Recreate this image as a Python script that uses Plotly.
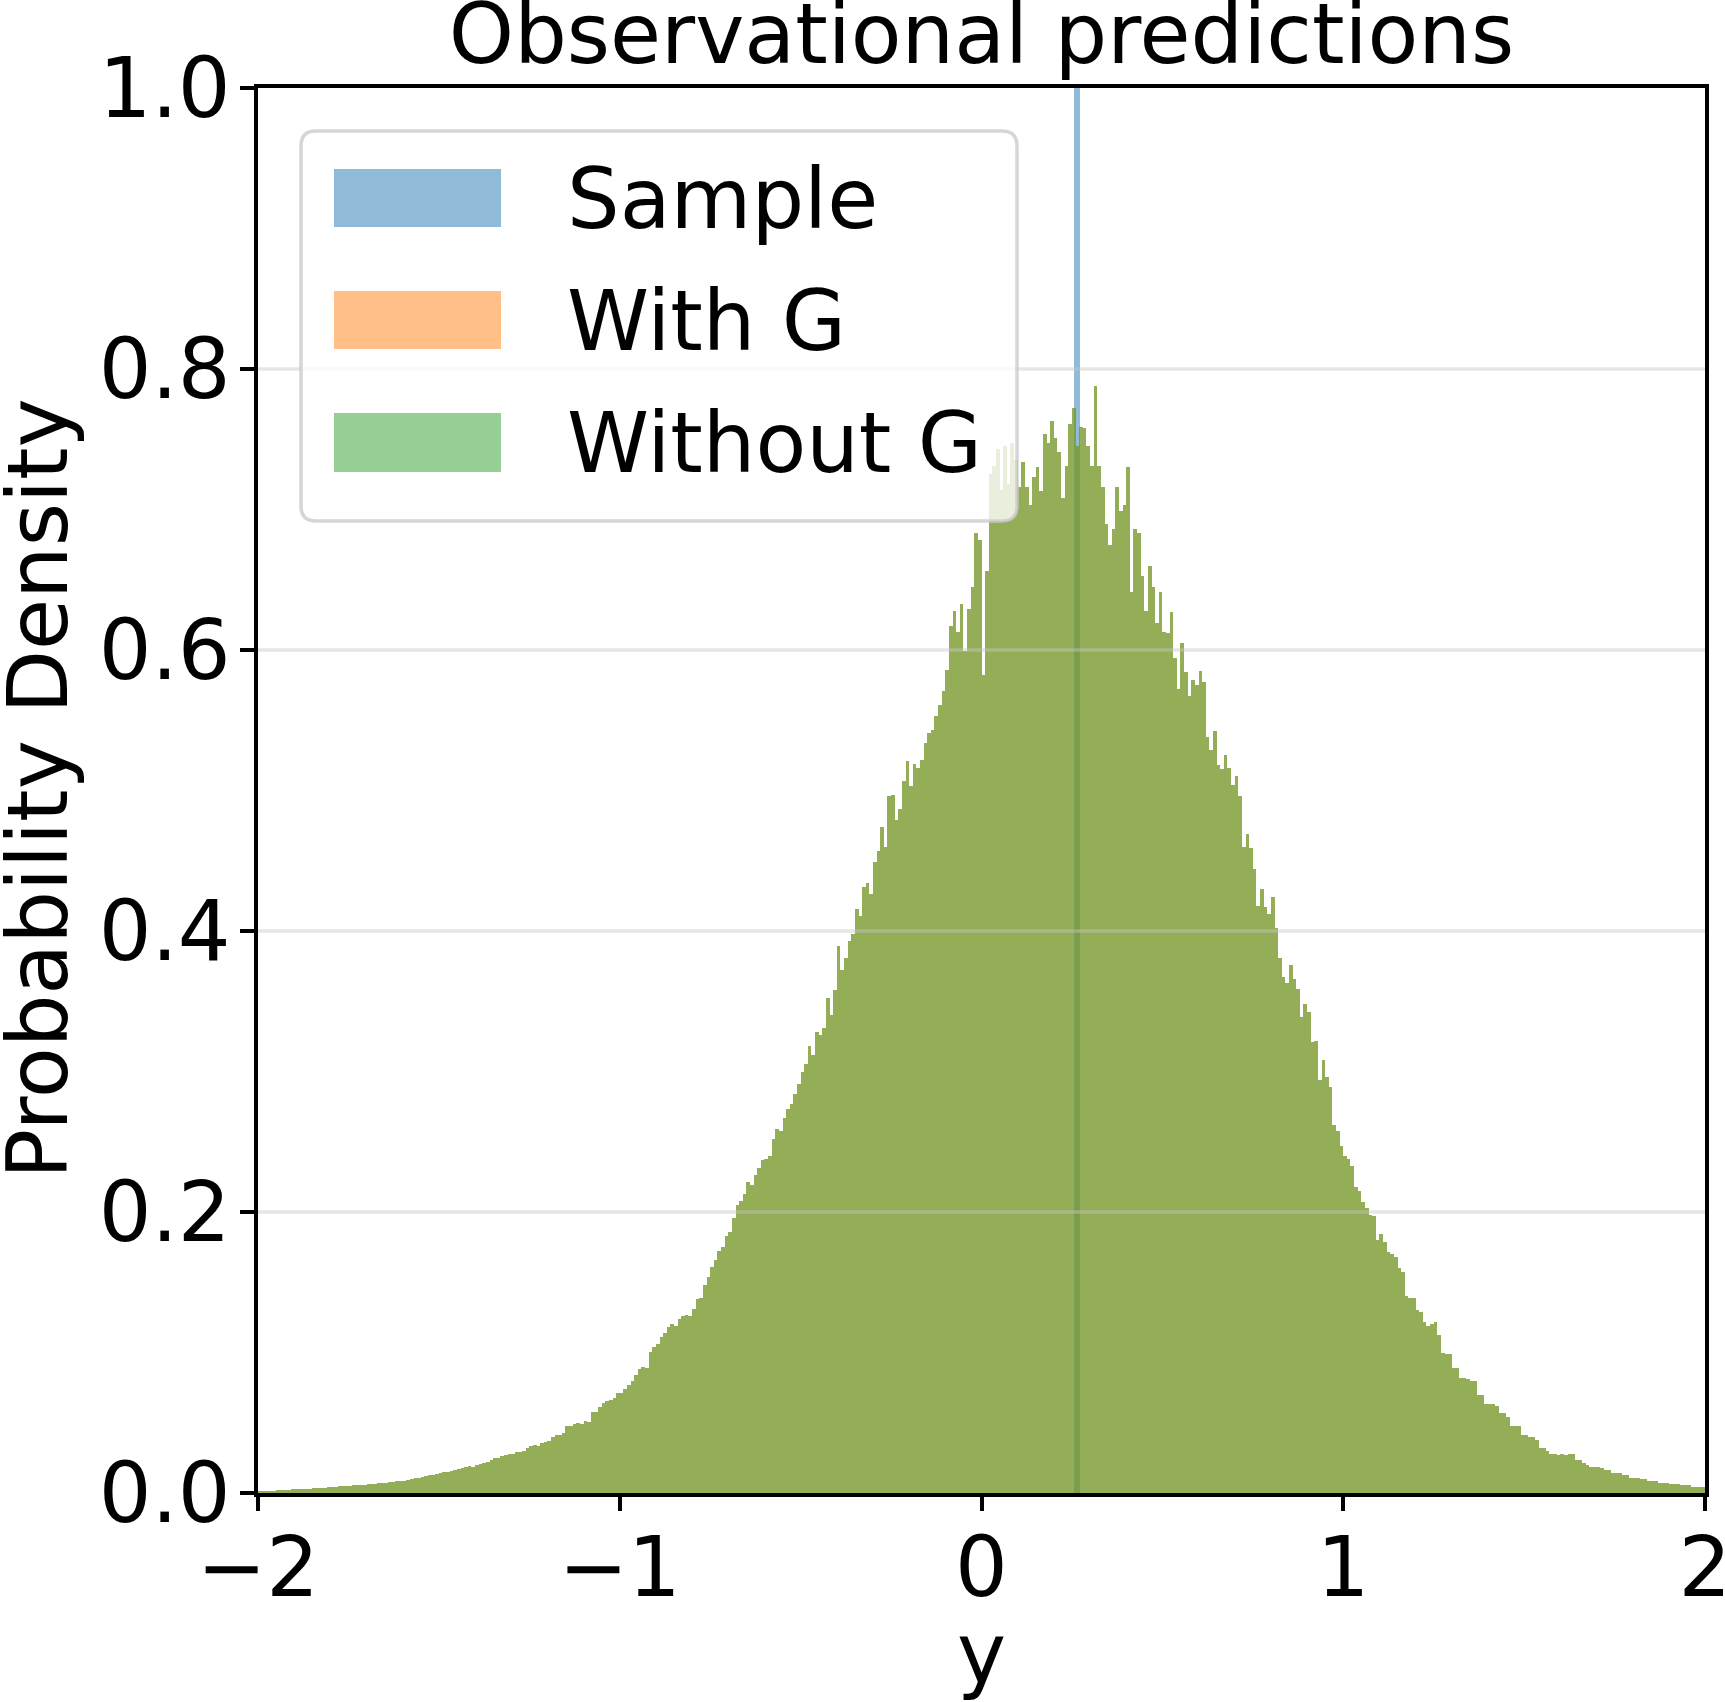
import numpy as np
import plotly.graph_objects as go

# ---------------- data ----------------
bin_start = -2.0
bin_width = 0.01

# density per 0.01-wide bin, from -2.00 to 2.00 (40 rows of 10 bins)
without_g_density = [
    0.0012, 0.0013, 0.0014, 0.0015, 0.0016, 0.0018, 0.0019, 0.0021, 0.0023, 0.0025,
    0.0026, 0.0028, 0.0029, 0.0031, 0.0032, 0.0034, 0.0036, 0.0037, 0.0039, 0.0041,
    0.0043, 0.0045, 0.0047, 0.0048, 0.0051, 0.0053, 0.0056, 0.0057, 0.0058, 0.0060,
    0.0062, 0.0064, 0.0066, 0.0068, 0.0070, 0.0073, 0.0075, 0.0079, 0.0083, 0.0086,
    0.0089, 0.0093, 0.0098, 0.0104, 0.0110, 0.0116, 0.0120, 0.0125, 0.0131, 0.0136,
    0.0140, 0.0146, 0.0152, 0.0158, 0.0165, 0.0171, 0.0178, 0.0186, 0.0190, 0.0188,
    0.0197, 0.0210, 0.0213, 0.0220, 0.0236, 0.0247, 0.0250, 0.0262, 0.0271, 0.0278,
    0.0279, 0.0290, 0.0291, 0.0302, 0.0318, 0.0335, 0.0340, 0.0338, 0.0355, 0.0366,
    0.0370, 0.0402, 0.0410, 0.0412, 0.0428, 0.0480, 0.0475, 0.0490, 0.0496, 0.0492,
    0.0510, 0.0506, 0.0580, 0.0575, 0.0612, 0.0640, 0.0655, 0.0660, 0.0678, 0.0710,
    0.0710, 0.0740, 0.0770, 0.0800, 0.0840, 0.0880, 0.0900, 0.0890, 0.1006, 0.1040,
    0.1060, 0.1110, 0.1140, 0.1180, 0.1200, 0.1190, 0.1240, 0.1260, 0.1270, 0.1260,
    0.1310, 0.1380, 0.1390, 0.1480, 0.1540, 0.1610, 0.1660, 0.1720, 0.1750, 0.1830,
    0.1860, 0.1960, 0.2050, 0.2080, 0.2130, 0.2210, 0.2190, 0.2260, 0.2310, 0.2370,
    0.2380, 0.2400, 0.2520, 0.2590, 0.2580, 0.2670, 0.2730, 0.2770, 0.2840, 0.2910,
    0.3000, 0.3050, 0.3180, 0.3120, 0.3280, 0.3260, 0.3310, 0.3520, 0.3400, 0.3580,
    0.3890, 0.3720, 0.3810, 0.3930, 0.3980, 0.4160, 0.4110, 0.4310, 0.4340, 0.4260,
    0.4490, 0.4570, 0.4740, 0.4600, 0.4960, 0.4970, 0.4790, 0.4870, 0.5070, 0.5210,
    0.5030, 0.5190, 0.5160, 0.5220, 0.5340, 0.5410, 0.5430, 0.5530, 0.5610, 0.5710,
    0.5860, 0.6170, 0.6280, 0.6130, 0.6330, 0.5990, 0.6290, 0.6450, 0.6830, 0.6780,
    0.5820, 0.6560, 0.7250, 0.7310, 0.7430, 0.7140, 0.7450, 0.7180, 0.7470, 0.7350,
    0.7160, 0.7340, 0.7160, 0.7030, 0.7230, 0.7300, 0.7130, 0.7540, 0.7470, 0.7630,
    0.7510, 0.7410, 0.7080, 0.7310, 0.7610, 0.7720, 0.7450, 0.7590, 0.7580, 0.7450,
    0.7310, 0.7880, 0.7310, 0.7160, 0.6900, 0.6750, 0.6860, 0.7160, 0.6990, 0.7030,
    0.7300, 0.6410, 0.6860, 0.6830, 0.6530, 0.6280, 0.6600, 0.6450, 0.6190, 0.6410,
    0.6130, 0.6120, 0.6270, 0.5940, 0.5720, 0.6050, 0.5840, 0.5670, 0.5790, 0.5750,
    0.5850, 0.5770, 0.5380, 0.5290, 0.5420, 0.5180, 0.5150, 0.5250, 0.5160, 0.5040,
    0.5100, 0.4960, 0.4600, 0.4690, 0.4590, 0.4440, 0.4180, 0.4300, 0.4170, 0.4120,
    0.4240, 0.4020, 0.3810, 0.3670, 0.3630, 0.3760, 0.3660, 0.3590, 0.3390, 0.3480,
    0.3420, 0.3210, 0.3220, 0.2940, 0.3080, 0.2960, 0.2890, 0.2620, 0.2580, 0.2470,
    0.2400, 0.2375, 0.2330, 0.2180, 0.2150, 0.2070, 0.2030, 0.1980, 0.1970, 0.1800,
    0.1840, 0.1790, 0.1715, 0.1700, 0.1680, 0.1600, 0.1570, 0.1405, 0.1390, 0.1390,
    0.1300, 0.1290, 0.1214, 0.1190, 0.1200, 0.1220, 0.1125, 0.0993, 0.0990, 0.0987,
    0.0890, 0.0890, 0.0816, 0.0816, 0.0810, 0.0800, 0.0800, 0.0700, 0.0700, 0.0630,
    0.0630, 0.0630, 0.0620, 0.0570, 0.0570, 0.0540, 0.0480, 0.0480, 0.0480, 0.0410,
    0.0410, 0.0400, 0.0400, 0.0380, 0.0320, 0.0320, 0.0300, 0.0280, 0.0280, 0.0270,
    0.0278, 0.0273, 0.0275, 0.0275, 0.0235, 0.0235, 0.0216, 0.0200, 0.0183, 0.0183,
    0.0183, 0.0180, 0.0164, 0.0164, 0.0140, 0.0140, 0.0140, 0.0128, 0.0128, 0.0110,
    0.0110, 0.0110, 0.0100, 0.0100, 0.0088, 0.0088, 0.0088, 0.0073, 0.0073, 0.0073,
    0.0062, 0.0062, 0.0062, 0.0055, 0.0055, 0.0055, 0.0045, 0.0045, 0.0045, 0.0044,
]
# the "With G" histogram is indistinguishable from "Without G" in the reference
with_g_density = list(without_g_density)

sample_value = [0.264]
sample_bin_width = 0.016
sample_density = [62.5]

series_names = ["Sample", "With G", "Without G"]
x_ticks = [-2, -1, 0, 1, 2]
y_ticks = [0.0, 0.2, 0.4, 0.6, 0.8, 1.0]
title_text = "Observational predictions"
x_title = "y"
y_title = "Probability Density"

# ---------------- styles ----------------
FONT = "DejaVu Sans"
FS = 83
C_BLUE = "#1f77b4"
C_ORANGE = "#ff7f0e"
C_GREEN = "#2ca02c"

centers = bin_start + bin_width * (np.arange(len(without_g_density)) + 0.5)

fig = go.Figure()
fig.add_trace(go.Bar(x=sample_value, y=sample_density, width=sample_bin_width,
                     marker=dict(color=C_BLUE, line=dict(width=0)), opacity=0.5,
                     name=series_names[0], showlegend=False))
fig.add_trace(go.Bar(x=centers, y=with_g_density, width=bin_width,
                     marker=dict(color=C_ORANGE, line=dict(width=0)), opacity=0.5,
                     name=series_names[1], showlegend=False))
fig.add_trace(go.Bar(x=centers, y=without_g_density, width=bin_width,
                     marker=dict(color=C_GREEN, line=dict(width=0)), opacity=0.5,
                     name=series_names[2], showlegend=False))

# plot area in pixels: x 258..1705, y 88..1493
L, R, T, B = 258, 20, 88, 209
W, H = 1725, 1702
PW, PH = W - L - R, H - T - B

def px(xp):
    return (xp - L) / PW

def py(yp):
    return (H - B - yp) / PH

shapes = []
# horizontal grid lines (drawn translucent above bars, like the reference)
for yv in y_ticks[1:-1]:
    shapes.append(dict(type="line", xref="paper", yref="y", x0=0, x1=1, y0=yv, y1=yv,
                       line=dict(color="rgba(200,200,200,0.45)", width=3.5), layer="above"))

# legend box with rounded corners
x0, x1, y0, y1 = px(301), px(1017), py(521), py(131)
rx, ry = 15 / PW, 15 / PH
path = (f"M {x0+rx},{y0} L {x1-rx},{y0} Q {x1},{y0} {x1},{y0+ry} "
        f"L {x1},{y1-ry} Q {x1},{y1} {x1-rx},{y1} L {x0+rx},{y1} "
        f"Q {x0},{y1} {x0},{y1-ry} L {x0},{y0+ry} Q {x0},{y0} {x0+rx},{y0} Z")
shapes.append(dict(type="path", xref="paper", yref="paper", path=path,
                   fillcolor="rgba(255,255,255,0.8)",
                   line=dict(color="rgba(204,204,204,0.8)", width=3.5), layer="above"))

legend_rows = [(169, 227), (291, 349), (413, 472)]
legend_colors = ["rgba(31,119,180,0.5)", "rgba(255,127,14,0.5)", "rgba(44,160,44,0.5)"]
annotations = []
for (ya, yb), col, name in zip(legend_rows, legend_colors, series_names):
    shapes.append(dict(type="rect", xref="paper", yref="paper",
                       x0=px(334), x1=px(501), y0=py(yb), y1=py(ya),
                       fillcolor=col, line=dict(width=0), layer="above"))
    annotations.append(dict(xref="paper", yref="paper", x=px(565), y=py((ya + yb) / 2 + 1),
                            xanchor="left", yanchor="middle", text=name, showarrow=False,
                            font=dict(family=FONT, size=FS, color="black")))

# axis titles as text placed like the reference
annotations.append(dict(xref="paper", yref="paper", x=px(38), y=py(789),
                        xanchor="center", yanchor="middle", textangle=-90,
                        text=y_title, showarrow=False,
                        font=dict(family=FONT, size=FS, color="black")))
annotations.append(dict(xref="paper", yref="paper", x=0.5, y=py(1654),
                        xanchor="center", yanchor="middle",
                        text=x_title, showarrow=False,
                        font=dict(family=FONT, size=FS, color="black")))

axis_common = dict(showline=True, linecolor="black", linewidth=3.5, mirror=True,
                   ticks="outside", ticklen=14, tickwidth=3.5, tickcolor="black",
                   zeroline=False, showgrid=False, ticklabeloverflow="allow",
                   tickfont=dict(family=FONT, size=FS, color="black"))

fig.update_layout(
    width=W, height=H,
    margin=dict(l=L, r=R, t=T, b=B, autoexpand=False),
    paper_bgcolor="white", plot_bgcolor="white",
    barmode="overlay", bargap=0,
    showlegend=False,
    font=dict(family=FONT, size=FS, color="black"),
    title=dict(text=title_text, x=0.5, xref="paper", xanchor="center",
               y=1 - 34 / H, yref="container", yanchor="middle",
               font=dict(family=FONT, size=FS, color="black")),
    xaxis=dict(range=[-2, 2], tickmode="array", tickvals=x_ticks, ticklabelstandoff=-14,
               **axis_common),
    yaxis=dict(range=[0, 1], tickmode="array", tickvals=y_ticks, tickformat=".1f",
               ticklabelstandoff=-7,
               **axis_common),
    shapes=shapes,
    annotations=annotations,
)

fig.write_html("out.html")
